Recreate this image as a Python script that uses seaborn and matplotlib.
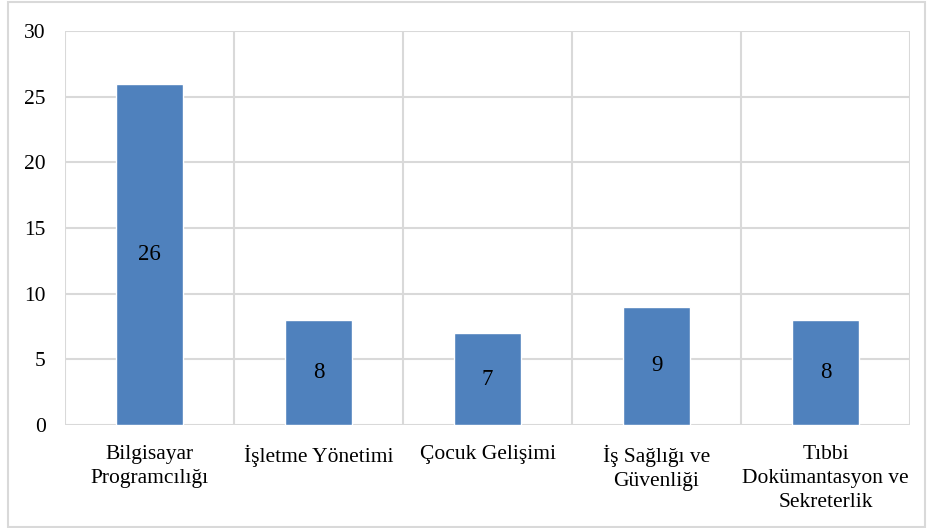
import matplotlib
matplotlib.use('Agg')
import matplotlib.pyplot as plt
from matplotlib.patches import Rectangle
import seaborn as sns
import pandas as pd
import numpy as np

# Program names and counts
programs = ['Bilgisayar\nProgramcılığı', 'İşletme Yönetimi', 'Çocuk Gelişimi',
            'İş Sağlığı ve\nGüvenliği', 'Tıbbi\nDokümantasyon ve\nSekreterlik']
counts = [26, 8, 7, 9, 8]
yticks = [0, 5, 10, 15, 20, 25, 30]

df = pd.DataFrame({'program': programs, 'count': counts})

sns.set_theme(style='white')
plt.rcParams['font.family'] = ['Liberation Serif', 'DejaVu Serif']

fig = plt.figure(figsize=(9.3, 5.28), dpi=100)
ax = fig.add_axes([65 / 930, 1 - 425 / 528, 845 / 930, 394 / 528])

sns.barplot(data=df, x='program', y='count', color='#4F81BD', saturation=1,
            width=0.4, ax=ax, zorder=3)

ax.set_ylim(0, 30)
ax.set_xlim(-0.5, len(programs) - 0.5)
ax.set_yticks(yticks)
ax.set_yticklabels([str(t) for t in yticks], fontsize=15.5, color='black')
ax.set_xticks(range(len(programs)))
ax.set_xticklabels(programs, fontsize=15.5, color='black', linespacing=1.35)
ax.tick_params(axis='x', length=0, pad=14.5)
ax.tick_params(axis='y', length=0, pad=14)
ax.set_xlabel('')
ax.set_ylabel('')

# grid: horizontal at ticks, vertical between categories
for t in yticks:
    ax.axhline(t, color='#D9D9D9', lw=1.5, zorder=1)
for b in np.arange(-0.5, len(programs), 1):
    ax.axvline(b, color='#D9D9D9', lw=1.5, zorder=1)
for s in ax.spines.values():
    s.set_visible(False)

# value labels centred in bars
for i, v in enumerate(counts):
    ax.text(i, v / 2, str(v), ha='center', va='center', fontsize=16.5, color='black', zorder=4)

# outer frame
fig.patches.append(Rectangle((8 / 930, 1 / 528), 917 / 930, 525 / 528, transform=fig.transFigure,
                             fill=False, edgecolor='#D9D9D9', lw=1.5))

fig.savefig('out.png', dpi=100)
